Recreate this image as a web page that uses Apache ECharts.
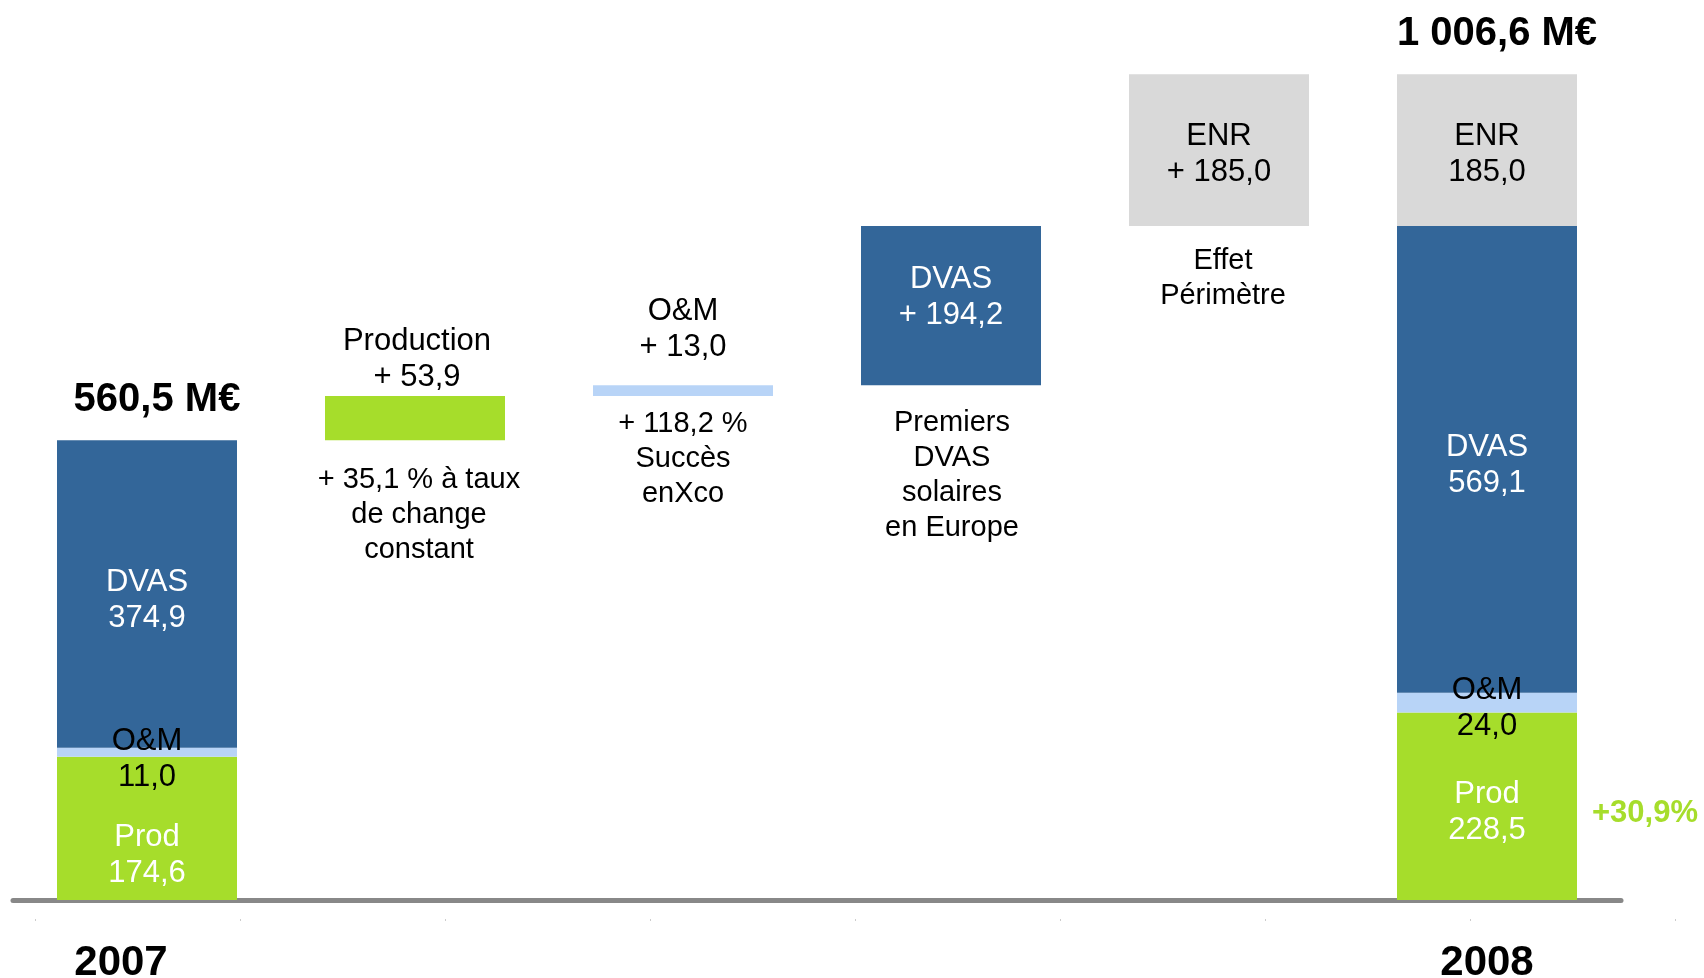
<!DOCTYPE html>
<html>
<head>
<meta charset="utf-8">
<title>Chiffre d'affaires 2007 - 2008</title>
<script src="https://cdn.jsdelivr.net/npm/echarts@6/dist/echarts.min.js"></script>
<style>
  html, body { margin: 0; padding: 0; background: #fff; }
  #chart { width: 1704px; height: 978px; }
</style>
</head>
<body>
<div id="chart"></div>
<script>
// valeurs en M€
const categories = ['2007', 'Production', 'O&M', 'DVAS', 'ENR', '2008'];
const yearLabels = ['2007', '', '', '', '', '2008'];
const prodValues = [174.6, 53.9, null, null, null, 228.5];
const omValues = [11.0, null, 13.0, null, null, 24.0];
const dvasValues = [374.9, null, null, 194.2, null, 569.1];
const enrValues = [null, null, null, null, 185.0, 185.0];
const totalValues = [560.5, null, null, null, null, 1006.6];
const stepNotes = [
  '',
  '+ 35,1 % à taux\nde change\nconstant',
  '+ 118,2 %\nSuccès\nenXco',
  'Premiers\nDVAS\nsolaires\nen Europe',
  'Effet\nPérimètre',
  ''
];
const growthText = '+30,9%';
const minorTicks = ['', '', '', '', '', '', '', '', ''];

const FONT = '"Liberation Sans", Arial, sans-serif';
const BLUE = '#336699';
const LIGHT_BLUE = '#B8D4F7';
const GREEN = '#A6DD2B';
const GREY = '#D9D9D9';
const last = categories.length - 1;

function fmt(v) {
  const parts = v.toFixed(1).split('.');
  const int = parts[0].replace(/\B(?=(\d{3})+(?!\d))/g, ' ');
  return int + ',' + parts[1];
}

// bas invisible des marches du waterfall
const allSegments = [prodValues, omValues, dvasValues, enrValues];
const stepSums = categories.map((c, i) => allSegments.reduce((s, arr) => s + (arr[i] || 0), 0));
let running = stepSums[0];
const baseValues = categories.map((c, i) => {
  if (i === 0 || i === last) return 0;
  const b = running;
  running += stepSums[i];
  return b;
});

const labelBase = {
  show: true,
  fontFamily: FONT,
  fontSize: 31,
  lineHeight: 36
};

function segment(values, name, stepName, color, textColor, looks) {
  return {
    name: name,
    type: 'bar',
    stack: 'ca',
    barWidth: 180,
    barGap: '-100%',
    itemStyle: { color: color },
    data: values.map((v, i) => {
      if (v == null) return null;
      const isStep = i > 0 && i < last;
      const look = looks[i] || {};
      return {
        value: v,
        label: Object.assign({}, labelBase, {
          position: look.pos || 'inside',
          distance: look.distance != null ? look.distance : 5,
          offset: look.offset || [0, 0],
          color: look.color || textColor,
          formatter: (isStep ? stepName : name) + '\n' + (isStep ? '+ ' : '') + fmt(v)
        })
      };
    })
  };
}

const noteDistance = [0, 22, 11, 20, 18, 0];
const noteOffset = [0, 4, 0, 1, 4, 0];

const chart = echarts.init(document.getElementById('chart'));

const option = {
  animation: false,
  backgroundColor: '#fff',
  grid: [
    { left: 13, right: 83, top: 0, bottom: 78, outerBoundsMode: 'none' },
    { left: 35, right: 29, top: 900, height: 19, outerBoundsMode: 'none' }
  ],
  xAxis: [
    {
      type: 'category',
      data: categories,
      offset: 3,
      axisLine: { lineStyle: { color: '#888888', width: 5, cap: 'round' } },
      axisTick: { show: false },
      axisLabel: {
        margin: 39,
        interval: 0,
        formatter: (v, i) => yearLabels[i] ? (i === 0 ? '{a|' : '{b|') + yearLabels[i] + '}' : '',
        rich: {
          a: { fontFamily: FONT, fontSize: 42, fontWeight: 'bold', color: '#000', padding: [0, 52, 0, 0] },
          b: { fontFamily: FONT, fontSize: 42, fontWeight: 'bold', color: '#000' }
        }
      }
    },
    {
      gridIndex: 1,
      type: 'category',
      data: minorTicks,
      boundaryGap: false,
      axisLine: { show: false },
      axisTick: { show: true, length: 2, lineStyle: { color: '#cccccc' } },
      axisLabel: { show: false }
    }
  ],
  yAxis: [
    { type: 'value', min: 0, max: 1097, show: false },
    { gridIndex: 1, show: false }
  ],
  series: [
    {
      name: 'base',
      type: 'bar',
      stack: 'ca',
      barWidth: 180,
      barGap: '-100%',
      silent: true,
      itemStyle: { color: 'transparent' },
      data: baseValues.map((v, i) => ({
        value: v,
        label: Object.assign({}, labelBase, {
          show: !!stepNotes[i],
          position: 'insideTop',
          distance: noteDistance[i],
          offset: [noteOffset[i], 0],
          fontSize: 29,
          lineHeight: 35,
          color: '#000',
          formatter: stepNotes[i]
        })
      }))
    },
    segment(prodValues, 'Prod', 'Production', GREEN, '#fff', {
      0: { offset: [0, 27] },
      1: { pos: 'top', distance: 0, offset: [2, 0], color: '#000' },
      5: { offset: [0, 6] }
    }),
    segment(omValues, 'O&M', 'O&M', LIGHT_BLUE, '#000', {
      0: { offset: [0, 7] },
      2: { pos: 'top', distance: 20 },
      5: { offset: [0, 6] }
    }),
    segment(dvasValues, 'DVAS', 'DVAS', BLUE, '#fff', {
      0: { offset: [0, 7] },
      3: { offset: [0, -8] },
      5: { offset: [0, 6] }
    }),
    segment(enrValues, 'ENR', 'ENR', GREY, '#000', {
      4: { offset: [0, 4] },
      5: { offset: [0, 4] }
    }),
    {
      name: 'total',
      type: 'bar',
      barWidth: 180,
      barGap: '-100%',
      silent: true,
      itemStyle: { color: 'transparent' },
      label: {
        show: true,
        position: 'top',
        distance: 20,
        offset: [10, 0],
        fontFamily: FONT,
        fontSize: 40,
        fontWeight: 'bold',
        color: '#000',
        formatter: p => fmt(p.value) + ' M€'
      },
      data: totalValues
    },
    {
      name: 'croissance',
      type: 'bar',
      barWidth: 180,
      barGap: '-100%',
      silent: true,
      itemStyle: { color: 'transparent' },
      label: {
        show: true,
        position: 'right',
        distance: 15,
        offset: [0, 7],
        fontFamily: FONT,
        fontSize: 31,
        fontWeight: 'bold',
        color: GREEN,
        formatter: growthText
      },
      data: prodValues.map((v, i) => (i === last ? v : null))
    }
  ]
};

chart.setOption(option);
</script>
</body>
</html>
